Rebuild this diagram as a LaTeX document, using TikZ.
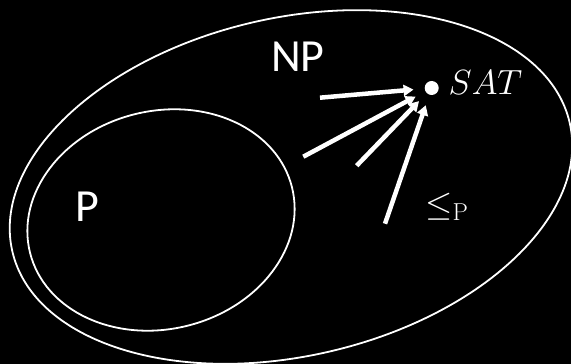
\RequirePackage{fix-cm}
\documentclass[tikz,border=0pt]{standalone}
\usepackage[no-math]{fontspec}
\setmainfont{Carlito}
\usetikzlibrary{arrows.meta,positioning}

\begin{document}
\begin{tikzpicture}[x=1pt, y=1pt,
    setline/.style={draw=white, line width=1.8pt},
    lbl/.style={text=white, inner sep=0pt, font=\fontsize{46}{50}\selectfont},
    mlbl/.style={text=white, inner sep=0pt, font=\fontsize{35}{40}\selectfont},
    dot/.style={circle, fill=white, inner sep=0pt, minimum size=14pt},
    reduce/.style={draw=white, line width=4.5pt, -{Triangle[length=10pt,width=11pt]}, shorten >=11pt}
]
\fill[black] (0,0) rectangle (571,364);
\useasboundingbox (0,0) rectangle (571,364);
\draw[setline, rotate around={13:(291,177)}] (291,177) ellipse [x radius=286, y radius=169];
\draw[setline, rotate around={14:(161,144)}] (161,144) ellipse [x radius=135, y radius=109];
\node[lbl] (np) at (298,307) {NP};
\node[lbl] (p) at (87,157) {P};
\node[dot] (sat) at (431.7,276) {};
\node[mlbl] (satlbl) at (485.5,281.5) {$SAT$};
\node[mlbl] (leq) at (447,157) {$\leq_{\mathrm{P}}$};
\coordinate (s1) at (320,266.3);
\coordinate (s2) at (303.3,207.3);
\coordinate (s3) at (356.7,198.3);
\coordinate (s4) at (385,140.3);
\draw[reduce] (s1) -- (sat);
\draw[reduce] (s2) -- (sat);
\draw[reduce] (s3) -- (sat);
\draw[reduce] (s4) -- (sat);
\end{tikzpicture}
\end{document}
